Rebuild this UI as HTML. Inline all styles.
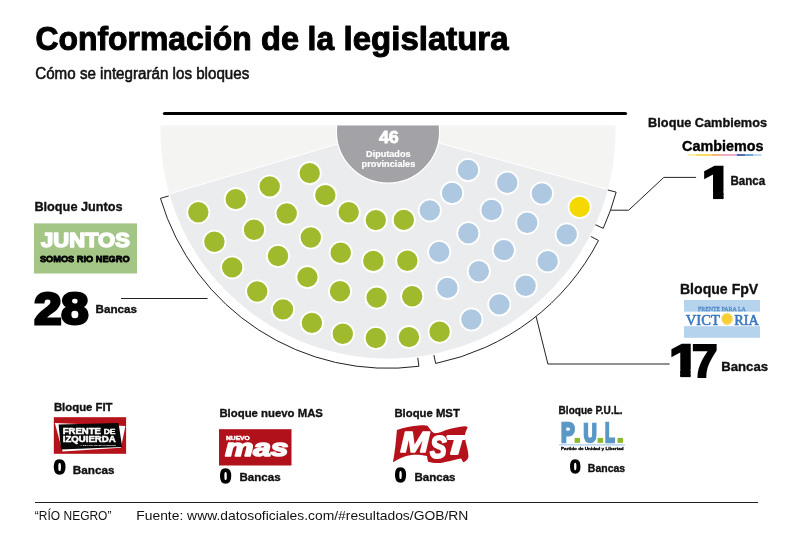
<!DOCTYPE html>
<html lang="es">
<head>
<meta charset="utf-8">
<title>Conformación de la legislatura</title>
<style>
html,body{margin:0;padding:0;background:#fff;}
body{width:793px;height:538px;overflow:hidden;}
svg{display:block;}
text{font-family:"Liberation Sans",sans-serif;}
.ln{fill:none;stroke:#222;stroke-width:1;}
</style>
</head>
<body>
<svg width="793" height="538" viewBox="0 0 793 538">
<rect width="793" height="538" fill="#fff"/>
<defs><clipPath id="cl"><rect x="100" y="125.6" width="600" height="300"/></clipPath></defs>
<g>
<text transform="translate(35.42,49.70) scale(0.9615,1)" font-size="33.19" fill="#000" font-weight="bold" stroke="#000" stroke-width="1.0" stroke-linejoin="round">Conformación</text>
<text transform="translate(261.00,49.70) scale(0.9818,1)" font-size="33.19" fill="#000" font-weight="bold" stroke="#000" stroke-width="1.0" stroke-linejoin="round">de</text>
<text transform="translate(307.57,49.70) scale(0.9587,1)" font-size="33.19" fill="#000" font-weight="bold" stroke="#000" stroke-width="1.0" stroke-linejoin="round">la</text>
<text transform="translate(343.59,49.70) scale(0.9934,1)" font-size="33.19" fill="#000" font-weight="bold" stroke="#000" stroke-width="1.0" stroke-linejoin="round">legislatura</text>
</g>
<text transform="translate(35.22,78.62) scale(0.9577,1)" font-size="15.84" fill="#111" stroke="#111" stroke-width="0.55" stroke-linejoin="round">Cómo se integrarán los bloques</text>
<line x1="164.5" y1="113.5" x2="625.5" y2="113.5" stroke="#000" stroke-width="3.2" stroke-linecap="round"/>
<g clip-path="url(#cl)">
<circle cx="388.0" cy="131.0" r="227.5" fill="#f4f4f2"/>
<path d="M388,128.9 L607.85,189.49 A227.5,227.5 0 0 1 169.38,193.95 Z" fill="#ebecee"/>
<path d="M169.38,193.95 L388,128.9 L607.85,189.49" fill="none" stroke="#fff" stroke-width="1"/>
<circle cx="388" cy="131.5" r="51.6" fill="#a3a2a6" stroke="#fff" stroke-width="1.2"/>
</g>
<g fill="#a0ba2e" stroke="#fff" stroke-width="1.8">
<circle cx="198.3" cy="212.2" r="11.1"/>
<circle cx="235.7" cy="199.1" r="11.1"/>
<circle cx="269.7" cy="186.4" r="11.1"/>
<circle cx="309.7" cy="173.1" r="11.1"/>
<circle cx="325.3" cy="195.1" r="11.1"/>
<circle cx="348.7" cy="212.2" r="11.1"/>
<circle cx="375.8" cy="220.1" r="11.1"/>
<circle cx="403.8" cy="219.9" r="11.1"/>
<circle cx="286.7" cy="213.5" r="11.1"/>
<circle cx="254" cy="229.7" r="11.1"/>
<circle cx="214.4" cy="241.7" r="11.1"/>
<circle cx="310.8" cy="237.5" r="11.1"/>
<circle cx="278" cy="256" r="11.1"/>
<circle cx="340.7" cy="252.8" r="11.1"/>
<circle cx="373.3" cy="260.9" r="11.1"/>
<circle cx="407.3" cy="260.7" r="11.1"/>
<circle cx="232.2" cy="267.4" r="11.1"/>
<circle cx="257.2" cy="291.5" r="11.1"/>
<circle cx="307.4" cy="277.1" r="11.1"/>
<circle cx="340" cy="291.2" r="11.1"/>
<circle cx="376.6" cy="297.6" r="11.1"/>
<circle cx="412.2" cy="296.2" r="11.1"/>
<circle cx="283" cy="309.4" r="11.1"/>
<circle cx="311.9" cy="322.9" r="11.1"/>
<circle cx="342.8" cy="333.7" r="11.1"/>
<circle cx="375.8" cy="338" r="11.1"/>
<circle cx="408.9" cy="337.1" r="11.1"/>
<circle cx="439.6" cy="331.7" r="11.1"/>
</g>
<g fill="#adc8e0" stroke="#fff" stroke-width="1.8">
<circle cx="468" cy="170" r="11.1"/>
<circle cx="507.2" cy="182.7" r="11.1"/>
<circle cx="541.9" cy="193.5" r="11.1"/>
<circle cx="452.1" cy="193" r="11.1"/>
<circle cx="429.8" cy="210.4" r="11.1"/>
<circle cx="491.6" cy="210" r="11.1"/>
<circle cx="527.2" cy="222.8" r="11.1"/>
<circle cx="566.7" cy="234.4" r="11.1"/>
<circle cx="468.3" cy="233.2" r="11.1"/>
<circle cx="439.2" cy="251.9" r="11.1"/>
<circle cx="503.8" cy="250.1" r="11.1"/>
<circle cx="547.7" cy="261.2" r="11.1"/>
<circle cx="478.8" cy="271.2" r="11.1"/>
<circle cx="447.4" cy="287.9" r="11.1"/>
<circle cx="525.6" cy="285.7" r="11.1"/>
<circle cx="499.3" cy="304.4" r="11.1"/>
<circle cx="471.4" cy="319.5" r="11.1"/>
</g>
<g fill="#f4d800" stroke="#fff" stroke-width="1.8">
<circle cx="579.6" cy="207" r="11.1"/>
</g>
<text transform="translate(378.88,143.13) scale(1.0775,1)" font-size="16.68" fill="#fff" font-weight="bold" stroke="#fff" stroke-width="0.8" stroke-linejoin="round">46</text>
<text transform="translate(366.09,157.40) scale(1.0787,1)" font-size="8.44" fill="#fff" font-weight="bold" stroke="#fff" stroke-width="0.2" stroke-linejoin="round">Diputados</text>
<text transform="translate(361.60,166.80) scale(1.0438,1)" font-size="8.83" fill="#fff" font-weight="bold" stroke="#fff" stroke-width="0.2" stroke-linejoin="round">provinciales</text>
<path class="ln" d="M417.77,357.75 L418.88,366.28 A237.3,237.3 0 0 1 160.46,198.37 L168.71,195.93"/>
<path class="ln" d="M590.90,236.51 L598.53,240.48 A237.3,237.3 0 0 1 435.63,363.47 L433.91,355.04"/>
<path class="ln" d="M607.84,189.94 L616.14,192.17 A236.2,236.2 0 0 1 603.22,228.32 L595.38,224.78"/>
<path class="ln" d="M121,298.5 H207.5"/>
<path class="ln" d="M536.1,316.5 L547.9,364 H669.7"/>
<path class="ln" d="M610.4,210.2 H628.7 L663.8,177.4 H696.1"/>
<text transform="translate(34.42,211.42) scale(0.9547,1)" font-size="13.31" fill="#111" font-weight="bold" stroke="#111" stroke-width="0.35" stroke-linejoin="round">Bloque Juntos</text>
<rect x="34" y="223.4" width="103" height="50.1" fill="#a3c585"/>
<text transform="translate(41.02,247.15) scale(1.0971,1)" font-size="20.07" fill="#fff" font-weight="bold" stroke="#fff" stroke-width="1.5" stroke-linejoin="round">JUNTOS</text>
<text transform="translate(39.92,262.11) scale(0.9909,1)" font-size="9.33" fill="#000" font-weight="bold" stroke="#000" stroke-width="0.8" stroke-linejoin="round">SOMOS RIO NEGRO</text>
<text transform="translate(34.19,323.86) scale(1.1053,1)" font-size="44.24" fill="#000" font-weight="bold" stroke="#000" stroke-width="3.0" stroke-linejoin="miter">28</text>
<text transform="translate(95.49,313.43) scale(1.0218,1)" font-size="11.42" fill="#111" font-weight="bold" stroke="#111" stroke-width="0.35" stroke-linejoin="round">Bancas</text>
<text transform="translate(648.11,126.73) scale(0.9905,1)" font-size="12.87" fill="#111" font-weight="bold" stroke="#111" stroke-width="0.35" stroke-linejoin="round">Bloque Cambiemos</text>
<text transform="translate(682.03,151.10) scale(0.9827,1)" font-size="14.62" fill="#000" font-weight="bold" stroke="#000" stroke-width="0.4" stroke-linejoin="round">Cambiemos</text>
<rect x="687.6" y="154.2" width="8.5" height="1.6" fill="#f7ef9a"/>
<rect x="696.1" y="154.2" width="15.9" height="1.6" fill="#f6d33c"/>
<rect x="712" y="154.2" width="9.0" height="1.6" fill="#f2a65a"/>
<rect x="721" y="154.2" width="15.8" height="1.6" fill="#eb9ac0"/>
<rect x="736.8" y="154.2" width="8.5" height="1.6" fill="#2b4a9b"/>
<rect x="745.3" y="154.2" width="8.0" height="1.6" fill="#4f8fcf"/>
<rect x="753.3" y="154.2" width="8.1" height="1.6" fill="#a9d3ee"/>
<clipPath id="c1_1"><rect x="683.3" y="162.8" width="70" height="28.41"/><rect x="713.0999999999999" y="162.8" width="10.40" height="36.50"/></clipPath><g clip-path="url(#c1_1)"><text transform="translate(702.09,198.00) scale(1.1974,1)" font-size="44.95" font-weight="bold" fill="#000" stroke="#000" stroke-width="2.6" stroke-linejoin="miter">1</text></g>
<text transform="translate(730.49,185.42) scale(0.9770,1)" font-size="11.85" fill="#111" font-weight="bold" stroke="#111" stroke-width="0.35" stroke-linejoin="round">Banca</text>
<text transform="translate(679.92,293.82) scale(0.9286,1)" font-size="15.20" fill="#111" font-weight="bold" stroke="#111" stroke-width="0.35" stroke-linejoin="round">Bloque FpV</text>
<rect x="684" y="300" width="76" height="37.8" fill="#b5d3ec"/>
<rect x="684" y="311.7" width="76" height="14.5" fill="#fff"/>
<text transform="translate(697.95,310.68) scale(0.9271,1)" font-size="6.34" fill="#4a86c6" stroke="#4a86c6" stroke-width="0.25" stroke-linejoin="round" style="font-family:&quot;Liberation Serif&quot;,serif">FRENTE PARA LA</text>
<text transform="translate(685.85,324.60) scale(0.9634,1)" font-size="15.11" fill="#3a78c0" stroke="#3a78c0" stroke-width="0.6" stroke-linejoin="round" style="font-family:&quot;Liberation Serif&quot;,serif">VICT</text>
<text transform="translate(734.27,324.60) scale(0.9463,1)" font-size="15.11" fill="#3a78c0" stroke="#3a78c0" stroke-width="0.6" stroke-linejoin="round" style="font-family:&quot;Liberation Serif&quot;,serif">RIA</text>
<text transform="translate(722.04,324.84) scale(0.8922,1)" font-size="15.76" fill="#f7cf35" style="font-family:&quot;Liberation Serif&quot;,serif">O</text>
<polygon points="733.50,318.70 731.91,319.66 733.01,321.15 731.17,321.42 731.63,323.23 729.82,322.77 729.55,324.61 728.06,323.51 727.10,325.10 726.14,323.51 724.65,324.61 724.38,322.77 722.57,323.23 723.03,321.42 721.19,321.15 722.29,319.66 720.70,318.70 722.29,317.74 721.19,316.25 723.03,315.98 722.57,314.17 724.38,314.63 724.65,312.79 726.14,313.89 727.10,312.30 728.06,313.89 729.55,312.79 729.82,314.63 731.63,314.17 731.17,315.98 733.01,316.25 731.91,317.74" fill="#f5d34a"/>
<circle cx="727.1" cy="318.7" r="4.7" fill="#f7cf35"/>
<clipPath id="c1_2"><rect x="650.4" y="341.1" width="70" height="28.41"/><rect x="680.1999999999999" y="341.1" width="10.40" height="36.50"/></clipPath><g clip-path="url(#c1_2)"><text transform="translate(669.19,376.30) scale(1.1974,1)" font-size="44.95" font-weight="bold" fill="#000" stroke="#000" stroke-width="2.6" stroke-linejoin="miter">1</text></g>
<text transform="translate(692.05,376.50) scale(1.0094,1)" font-size="45.53" fill="#000" font-weight="bold" stroke="#000" stroke-width="2.2" stroke-linejoin="miter">7</text>
<text transform="translate(721.29,371.43) scale(1.0328,1)" font-size="12.73" fill="#111" font-weight="bold" stroke="#111" stroke-width="0.35" stroke-linejoin="round">Bancas</text>
<text transform="translate(53.91,410.52) scale(0.9959,1)" font-size="11.42" fill="#111" font-weight="bold" stroke="#111" stroke-width="0.35" stroke-linejoin="round">Bloque FIT</text>
<rect x="53.8" y="417.2" width="72.3" height="36.6" fill="#b5121b"/>
<polygon points="54.8,423.1 125.4,426.1 120.9,447.8 62.6,451.6" fill="#fff"/>
<polygon points="58.6,424.6 118.5,422.9 122.2,447.1 60.9,449.6" fill="#080808"/>
<text transform="translate(62.70,433.55) scale(1.1328,1)" font-size="8.44" fill="#fff" font-weight="bold" stroke="#fff" stroke-width="0.5" stroke-linejoin="round">FRENTE</text>
<text transform="translate(103.63,433.60) scale(1.2985,1)" font-size="6.55" fill="#fff" font-weight="bold" stroke="#fff" stroke-width="0.4" stroke-linejoin="round">DE</text>
<text transform="translate(62.70,441.95) scale(1.0885,1)" font-size="8.87" fill="#fff" font-weight="bold" stroke="#fff" stroke-width="0.5" stroke-linejoin="round">IZQUIERDA</text>
<text transform="translate(80.35,445.90) scale(1.0903,1)" font-size="2.47" fill="#fff" font-weight="bold">Y DE LOS TRABAJADORES</text>
<text transform="translate(53.75,473.79) scale(1.0304,1)" font-size="20.64" fill="#000" font-weight="bold" stroke="#000" stroke-width="1.6" stroke-linejoin="round">0</text>
<text transform="translate(72.78,473.52) scale(1.0401,1)" font-size="11.27" fill="#111" font-weight="bold" stroke="#111" stroke-width="0.35" stroke-linejoin="round">Bancas</text>
<text transform="translate(219.41,417.22) scale(0.9716,1)" font-size="11.71" fill="#111" font-weight="bold" stroke="#111" stroke-width="0.35" stroke-linejoin="round">Bloque nuevo MAS</text>
<rect x="219" y="429.2" width="72.5" height="36.3" fill="#b1111a"/>
<text transform="translate(225.95,439.50) scale(1.3970,1)" font-size="4.80" fill="#fff" font-weight="bold" stroke="#fff" stroke-width="0.4" stroke-linejoin="round">NUEVO</text>
<text transform="translate(225.25,455.60) scale(1.3204,1)" font-size="23.89" fill="#fff" font-weight="bold" font-style="italic" stroke="#fff" stroke-width="1.6" stroke-linejoin="round">mas</text>
<text transform="translate(219.99,483.00) scale(1.0362,1)" font-size="19.51" fill="#000" font-weight="bold" stroke="#000" stroke-width="1.6" stroke-linejoin="round">0</text>
<text transform="translate(239.50,481.32) scale(0.9865,1)" font-size="11.71" fill="#111" font-weight="bold" stroke="#111" stroke-width="0.35" stroke-linejoin="round">Bancas</text>
<text transform="translate(394.41,416.52) scale(0.9793,1)" font-size="11.56" fill="#111" font-weight="bold" stroke="#111" stroke-width="0.35" stroke-linejoin="round">Bloque MST</text>
<path d="M396.9,429.9 C404,427.5 412,425.8 419,425.4 C423,425.2 426,425.3 427.6,425.9 C430,428.5 432,432.5 434.9,433.3 C440,433.2 444,430.5 448.6,429.3 C454,427.8 459,426.6 464.4,426.2 C466.8,426.1 468.2,426.8 467.4,428 C466.2,430.5 464.9,433.5 464.8,436.5 C465,440.5 466.4,444 467.2,448 C468,451.5 468.6,454.5 468.4,457 C468,459.5 465.5,461.6 463.4,462.3 C462.4,461 461.8,459.6 461.2,458.4 C453,459.5 445,462.8 438,463 C434,463 431,462.5 428.1,461.7 C427.5,460 427.2,458 427,456 C422,455 417,454.5 413,454.8 C405,455.5 399,459 392.9,462.3 C395,451.5 396,440.5 396.9,429.9 Z" fill="#b5121b"/>
<text transform="translate(400.34,451.95) scale(1.1435,1)" font-size="30.25" fill="#fff" font-weight="bold" font-style="italic" stroke="#fff" stroke-width="1.3" stroke-linejoin="round">M</text>
<clipPath id="ct"><rect x="440" y="430" width="24.9" height="30"/></clipPath>
<g clip-path="url(#ct)"><text transform="translate(444.42,454.20) scale(1.5154,1)" font-size="25.31" fill="#fff" font-weight="bold" font-style="italic" stroke="#fff" stroke-width="2.0" stroke-linejoin="round">T</text></g>
<text transform="translate(430.09,457.89) scale(0.8051,1)" font-size="30.81" fill="#fff" font-weight="bold" font-style="italic" stroke="#b5121b" stroke-width="3.6" stroke-linejoin="round" aria-hidden="true">S</text>
<text transform="translate(430.09,457.89) scale(0.8051,1)" font-size="30.81" fill="#fff" font-weight="bold" font-style="italic" stroke="#fff" stroke-width="2.0" stroke-linejoin="round">S</text>
<text transform="translate(395.00,482.10) scale(1.0254,1)" font-size="19.51" fill="#000" font-weight="bold" stroke="#000" stroke-width="1.6" stroke-linejoin="round">0</text>
<text transform="translate(414.50,480.62) scale(1.0355,1)" font-size="11.13" fill="#111" font-weight="bold" stroke="#111" stroke-width="0.35" stroke-linejoin="round">Bancas</text>
<text transform="translate(558.60,413.93) scale(0.9814,1)" font-size="10.25" fill="#111" font-weight="bold" stroke="#111" stroke-width="0.35" stroke-linejoin="round">Bloque P.U.L.</text>
<text transform="translate(561.01,441.60) scale(0.7671,1)" font-size="26.76" fill="#5a98c6" font-weight="bold" stroke="#5a98c6" stroke-width="2.6" stroke-linejoin="miter">P</text>
<text transform="translate(583.40,441.53) scale(0.6875,1)" font-size="26.67" fill="#5a98c6" font-weight="bold" stroke="#5a98c6" stroke-width="2.6" stroke-linejoin="miter">U</text>
<text transform="translate(604.92,441.60) scale(0.5978,1)" font-size="26.76" fill="#5a98c6" font-weight="bold" stroke="#5a98c6" stroke-width="2.6" stroke-linejoin="miter">L</text>
<rect x="574.6" y="437.9" width="5.4" height="5" fill="#8db92f"/>
<rect x="597.6" y="437.9" width="5.5" height="5" fill="#8db92f"/>
<rect x="617.5" y="437.9" width="5.6" height="5" fill="#8db92f"/>
<rect x="559.1" y="444.3" width="65.8" height="1.1" fill="#9fc5e8"/>
<text transform="translate(561.04,450.45) scale(1.0574,1)" font-size="4.36" fill="#000" font-weight="bold" stroke="#000" stroke-width="0.3" stroke-linejoin="round">Partido de Unidad y Libertad</text>
<text transform="translate(570.09,473.36) scale(1.0079,1)" font-size="18.80" fill="#000" font-weight="bold" stroke="#000" stroke-width="1.5" stroke-linejoin="round">0</text>
<text transform="translate(587.87,471.52) scale(1.0075,1)" font-size="10.40" fill="#111" font-weight="bold" stroke="#111" stroke-width="0.35" stroke-linejoin="round">Bancas</text>
<rect x="35" y="502" width="723" height="1" fill="#222"/>
<text transform="translate(34.85,519.70) scale(0.9056,1)" font-size="13.24" fill="#111">“RÍO NEGRO”</text>
<text transform="translate(136.26,519.70) scale(1.0483,1)" font-size="13.24" fill="#111">Fuente: www.datosoficiales.com/#resultados/GOB/RN</text>
</svg>
</body>
</html>
